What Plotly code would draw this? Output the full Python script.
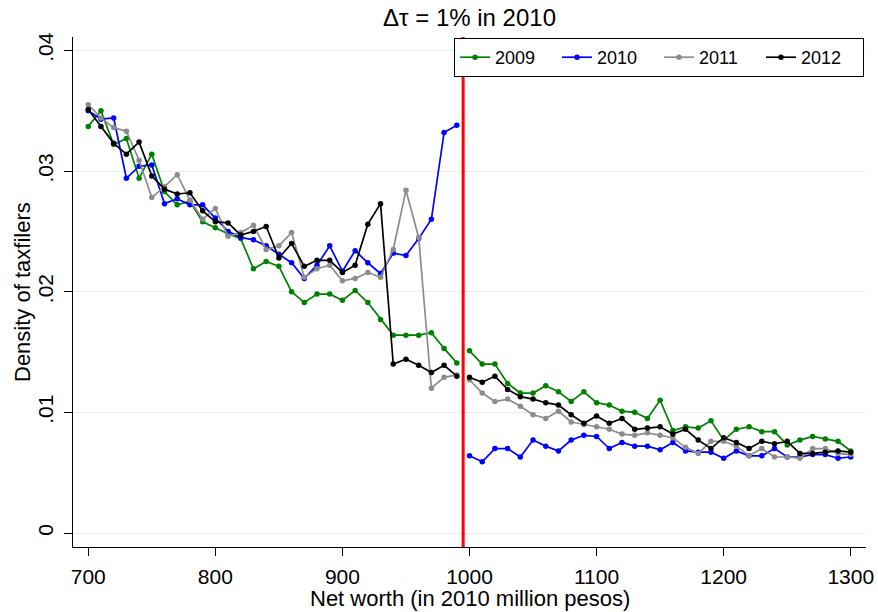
import plotly.graph_objects as go

x_left = list(range(700, 1000, 10))
x_right = list(range(1000, 1310, 10))

y2009_left = [.0337, .0350, .0322, .0327, .0294, .0314, .0283, .0272, .0275, .0258,
              .0253, .0248, .0244, .0219, .0225, .0221, .0200, .0191, .0198, .0198,
              .0193, .0201, .0191, .0177, .0164, .0164, .0164, .0166, .0153, .0141]
y2009_right = [.0151, .0140, .0140, .0124, .0116, .0116, .0122, .0117, .0109, .0117,
               .0108, .0106, .0101, .0100, .0095, .0110, .0085, .0088, .0087, .0093,
               .0077, .0086, .0088, .0084, .0084, .0073, .0077, .0080, .0078, .0076, .0068]

y2010_left = [.0350, .0343, .0344, .0294, .0304, .0305, .0273, .0277, .0272, .0272,
              .0261, .0250, .0245, .0243, .0238, .0231, .0224, .0211, .0222, .0238,
              .0217, .0234, .0224, .0215, .0232, .0230, .0244, .0260, .0332, .0338]
y2010_right = [.0064, .0059, .0070, .0070, .0063, .0077, .0072, .0068, .0077, .0081,
               .0080, .0070, .0075, .0072, .0072, .0069, .0075, .0068, .0067, .0067,
               .0062, .0068, .0064, .0064, .0070, .0063, .0063, .0065, .0065, .0062, .0063]

y2011_left = [.0355, .0344, .0336, .0333, .0309, .0278, .0287, .0297, .0276, .0260,
              .0269, .0246, .0249, .0255, .0235, .0238, .0249, .0212, .0219, .0222,
              .0209, .0211, .0216, .0212, .0235, .0284, .0245, .0120, .0129, .0131]
y2011_right = [.0127, .0116, .0109, .0111, .0105, .0098, .0095, .0101, .0092, .0090,
               .0088, .0086, .0082, .0081, .0083, .0081, .0079, .0071, .0066, .0076,
               .0076, .0072, .0064, .0070, .0063, .0063, .0062, .0070, .0070, .0066, .0065]

y2012_left = [.0351, .0337, .0323, .0314, .0324, .0296, .0285, .0281, .0282, .0267,
              .0258, .0257, .0247, .0250, .0254, .0228, .0240, .0221, .0226, .0226,
              .0216, .0222, .0256, .0273, .0140, .0144, .0139, .0133, .0139, .0130]
y2012_right = [.0129, .0125, .0130, .0119, .0113, .0111, .0108, .0106, .0098, .0091,
               .0097, .0091, .0095, .0086, .0087, .0088, .0082, .0086, .0077, .0070,
               .0079, .0075, .0070, .0076, .0074, .0076, .0066, .0066, .0067, .0068, .0067]

series = [
    ("2009", "#008000", y2009_left, y2009_right),
    ("2010", "#0000ff", y2010_left, y2010_right),
    ("2011", "#8c8c8c", y2011_left, y2011_right),
    ("2012", "#000000", y2012_left, y2012_right),
]

threshold = 995
y_ticks = [0, 0.01, 0.02, 0.03, 0.04]
y_ticklabels = ["0", ".01", ".02", ".03", ".04"]
x_ticks = [700, 800, 900, 1000, 1100, 1200, 1300]

FONT = "Liberation Sans, Arial, Helvetica, sans-serif"
W, H = 878, 612
ML, MR, MT, MB = 73, 12, 37, 65

fig = go.Figure()
for name, color, yl, yr in series:
    fig.add_trace(go.Scatter(
        x=x_left + [None] + x_right,
        y=yl + [None] + yr,
        mode="lines+markers",
        name=name,
        line=dict(color=color, width=1.7),
        marker=dict(color=color, size=5.5),
        connectgaps=False,
    ))

fig.add_shape(type="line", x0=threshold, x1=threshold, xref="x",
              y0=0, y1=1, yref="paper",
              line=dict(color="#ff0000", width=3), layer="above")

# axis titles as annotations (pixel-controlled placement)
fig.add_annotation(text="Net worth (in 2010 million pesos)", xref="paper", yref="paper",
                   x=0.5, y=-(598 - (H - MB)) / (H - MT - MB), xanchor="center", yanchor="middle",
                   showarrow=False, font=dict(size=22, family=FONT, color="black"))
fig.add_annotation(text="Density of taxfilers", xref="paper", yref="paper",
                   x=-(ML - 22) / (W - ML - MR), y=0.5, xanchor="center", yanchor="middle",
                   textangle=-90, showarrow=False,
                   font=dict(size=22, family=FONT, color="black"))

fig.update_layout(
    width=W, height=H,
    paper_bgcolor="white", plot_bgcolor="white",
    margin=dict(l=ML, r=MR, t=MT, b=MB),
    font=dict(family=FONT, size=21, color="black"),
    title=dict(text="Δτ = 1% in 2010", x=(ML + (W - ML - MR) / 2) / W, xanchor="center",
               xref="container", yref="container",
               y=1 - 18 / H, yanchor="middle", font=dict(size=24, family=FONT)),
    showlegend=True,
    legend=dict(orientation="h", x=0.9975, xanchor="right", y=0.998, yanchor="top",
                bordercolor="black", borderwidth=1, bgcolor="white",
                font=dict(size=18, family=FONT),
                entrywidth=57, itemwidth=30),
    xaxis=dict(range=[688, 1312], tickvals=x_ticks, automargin=False,
               showline=True, linecolor="black", linewidth=1.2,
               ticks="outside", ticklen=8, tickcolor="black", ticklabelstandoff=3,
               showgrid=False, zeroline=False, mirror=False),
    yaxis=dict(range=[-0.00116, -0.00116 + (H - MT - MB) / 12065], tickvals=y_ticks,
               ticktext=y_ticklabels, tickangle=-90, automargin=False,
               showline=True, linecolor="black", linewidth=1.2,
               ticks="outside", ticklen=8, tickcolor="black", ticklabelstandoff=3,
               showgrid=True, gridcolor="#e6eff1", gridwidth=1.2,
               zeroline=False, mirror=False),
)

fig.write_html("out.html", config={"displayModeBar": False},
               post_script="document.body.style.margin='0';")
